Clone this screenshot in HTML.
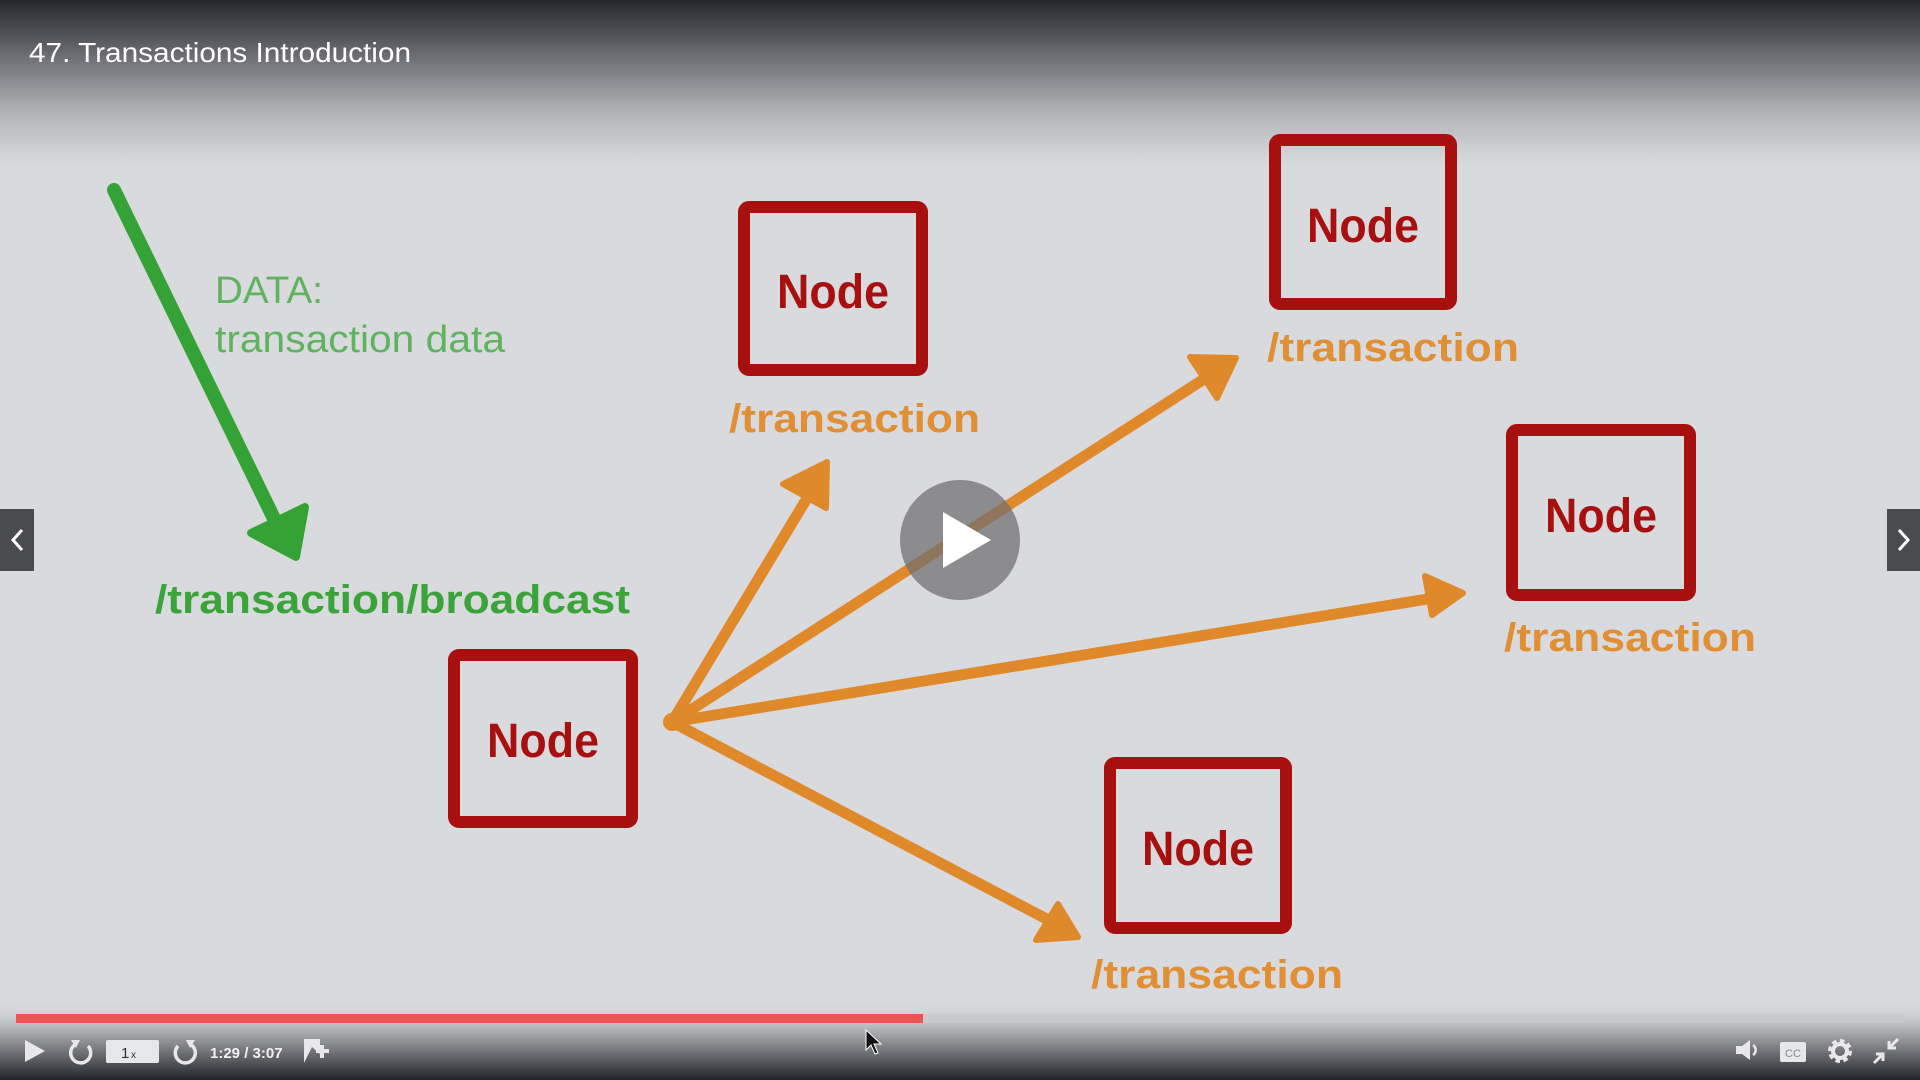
<!DOCTYPE html>
<html><head><meta charset="utf-8"><style>
html,body{margin:0;padding:0;width:1920px;height:1080px;overflow:hidden;background:#d9dadd;}
svg{display:block;}
</style></head><body>
<svg width="1920" height="1080" viewBox="0 0 1920 1080" xmlns="http://www.w3.org/2000/svg">
<defs>
<linearGradient id="top" x1="0" y1="0" x2="0" y2="1">
<stop offset="0" stop-color="#25272c"/><stop offset="0.35" stop-color="#6f7075"/><stop offset="0.7" stop-color="#b5b6ba"/><stop offset="1" stop-color="#d9dadd"/>
</linearGradient>
<linearGradient id="bot" x1="0" y1="0" x2="0" y2="1">
<stop offset="0" stop-color="#d9dadd" stop-opacity="0"/><stop offset="0.4" stop-color="#a9aaae"/><stop offset="1" stop-color="#222429"/>
</linearGradient>
</defs>
<rect width="1920" height="1080" fill="#d9dadd"/>
<rect width="1920" height="165" fill="url(#top)"/>
<text x="29" y="62" font-family="Liberation Sans, sans-serif" font-size="28" fill="#fff" textLength="382" lengthAdjust="spacingAndGlyphs">47. Transactions Introduction</text>

<!-- green arrow -->
<g stroke="#34a234" fill="#34a234" stroke-linecap="round" stroke-linejoin="round">
<line x1="114" y1="190" x2="282" y2="535" stroke-width="14"/>
<polygon points="296,557 251,533 305,507" stroke-width="8"/>
</g>
<text x="215" y="303" font-family="Liberation Sans, sans-serif" font-size="38" fill="#5fb35f" textLength="108" lengthAdjust="spacingAndGlyphs">DATA:</text>
<text x="215" y="352" font-family="Liberation Sans, sans-serif" font-size="38" fill="#5fb35f" textLength="290" lengthAdjust="spacingAndGlyphs">transaction data</text>
<text x="155" y="613" font-family="Liberation Sans, sans-serif" font-weight="bold" font-size="40" fill="#3aa33a" textLength="475" lengthAdjust="spacingAndGlyphs">/transaction/broadcast</text>

<!-- orange arrows -->
<g stroke="#e0892a" fill="#e0892a" stroke-linecap="round" stroke-linejoin="round">
<circle cx="672" cy="722" r="9" stroke="none"/>
<line x1="672" y1="722" x2="815" y2="485" stroke-width="11"/>
<polygon points="827,462 783,484 826,508" stroke-width="6"/>
<line x1="672" y1="722" x2="1215" y2="372" stroke-width="11"/>
<polygon points="1236,358 1190,357 1217,398" stroke-width="6"/>
<line x1="672" y1="722" x2="1440" y2="597" stroke-width="11"/>
<polygon points="1463,593 1425,576 1432,615" stroke-width="6"/>
<line x1="672" y1="722" x2="1058" y2="925" stroke-width="11"/>
<polygon points="1078,937 1058,904 1036,940" stroke-width="6"/>
</g>

<!-- nodes -->
<g fill="none" stroke="#a8100f" stroke-width="12" stroke-linejoin="round">
<rect x="744" y="207" width="178" height="163" rx="5"/>
<rect x="1275" y="140" width="176" height="164" rx="5"/>
<rect x="1512" y="430" width="178" height="165" rx="5"/>
<rect x="454" y="655" width="178" height="167" rx="5"/>
<rect x="1110" y="763" width="176" height="165" rx="5"/>
</g>
<g font-family="Liberation Sans, sans-serif" font-weight="bold" font-size="48" fill="#a8100f" text-anchor="middle">
<text x="833" y="308" textLength="112" lengthAdjust="spacingAndGlyphs">Node</text>
<text x="1363" y="242" textLength="112" lengthAdjust="spacingAndGlyphs">Node</text>
<text x="1601" y="532" textLength="112" lengthAdjust="spacingAndGlyphs">Node</text>
<text x="543" y="757" textLength="112" lengthAdjust="spacingAndGlyphs">Node</text>
<text x="1198" y="865" textLength="112" lengthAdjust="spacingAndGlyphs">Node</text>
</g>
<g font-family="Liberation Sans, sans-serif" font-weight="bold" font-size="40" fill="#e08f35">
<text x="729" y="432" textLength="251" lengthAdjust="spacingAndGlyphs">/transaction</text>
<text x="1267" y="361" textLength="252" lengthAdjust="spacingAndGlyphs">/transaction</text>
<text x="1504" y="651" textLength="252" lengthAdjust="spacingAndGlyphs">/transaction</text>
<text x="1091" y="988" textLength="252" lengthAdjust="spacingAndGlyphs">/transaction</text>
</g>

<!-- play button -->
<circle cx="960" cy="540" r="60" fill="#6e6e70" fill-opacity="0.72"/>
<polygon points="943,512 943,568 991,540" fill="#fff"/>

<!-- side arrows -->
<rect x="0" y="509" width="34" height="62" fill="#4a4b4f"/>
<polyline points="22,530 13,540 22,550" fill="none" stroke="#fff" stroke-width="3"/>
<rect x="1887" y="509" width="33" height="62" fill="#4a4b4f"/>
<polyline points="1899,530 1908,540 1899,550" fill="none" stroke="#fff" stroke-width="3"/>

<!-- bottom bar -->
<rect x="0" y="1000" width="1920" height="80" fill="url(#bot)"/>
<rect x="16" y="1014" width="1888" height="9" fill="#c9cacd"/>
<rect x="16" y="1014" width="907" height="9" fill="#ec5454"/>
<polygon points="25,1040 25,1062 45,1051" fill="#e8e8ea"/>
<path d="M76,1044 A10,10 0 1 0 88,1046" fill="none" stroke="#e8e8ea" stroke-width="3.5"/>
<polygon points="71,1040 80,1040 76,1048" fill="#e8e8ea"/>
<rect x="106" y="1040" width="53" height="23" rx="2" fill="#e6e7ea"/>
<text x="121" y="1058" font-family="Liberation Sans, sans-serif" font-size="15" fill="#333">1</text>
<text x="131" y="1058" font-family="Liberation Sans, sans-serif" font-size="10" fill="#333">x</text>
<path d="M190,1044 A10,10 0 1 1 178,1046" fill="none" stroke="#e8e8ea" stroke-width="3.5"/>
<polygon points="195,1040 186,1040 190,1048" fill="#e8e8ea"/>
<text x="210" y="1058" font-family="Liberation Sans, sans-serif" font-weight="bold" font-size="15" fill="#f2f2f2">1:29 / 3:07</text>
<polygon points="304,1039 320,1039 320,1054 312,1047 304,1063" fill="#e8e8ea"/>
<rect x="316" y="1049" width="13" height="4" fill="#e8e8ea"/><rect x="320" y="1045" width="4" height="13" fill="#e8e8ea"/>
<polygon points="1736,1046 1742,1046 1750,1040 1750,1060 1742,1054 1736,1054" fill="#e8e8ea"/>
<path d="M1753,1045 A6,6 0 0 1 1753,1055" fill="none" stroke="#e8e8ea" stroke-width="2.5"/>
<rect x="1780" y="1042" width="26" height="20" rx="2" fill="#e6e7ea"/>
<text x="1793" y="1057" font-family="Liberation Sans, sans-serif" font-size="11" fill="#888" text-anchor="middle">CC</text>
<circle cx="1840" cy="1051" r="9" fill="none" stroke="#e8e8ea" stroke-width="6" stroke-dasharray="4 3"/>
<circle cx="1840" cy="1051" r="7" fill="none" stroke="#e8e8ea" stroke-width="4"/>
<g stroke="#e8e8ea" stroke-width="3" fill="none">
<line x1="1874" y1="1063" x2="1883" y2="1054"/><polyline points="1876,1054 1883,1054 1883,1061"/>
<line x1="1898" y1="1039" x2="1889" y2="1048"/><polyline points="1889,1041 1889,1048 1896,1048"/>
</g>
<!-- cursor -->
<polygon points="866,1030 866,1050 871,1045 875,1054 878,1053 874,1044 881,1044" fill="#111" stroke="#fff" stroke-width="1"/>
</svg>
</body></html>
